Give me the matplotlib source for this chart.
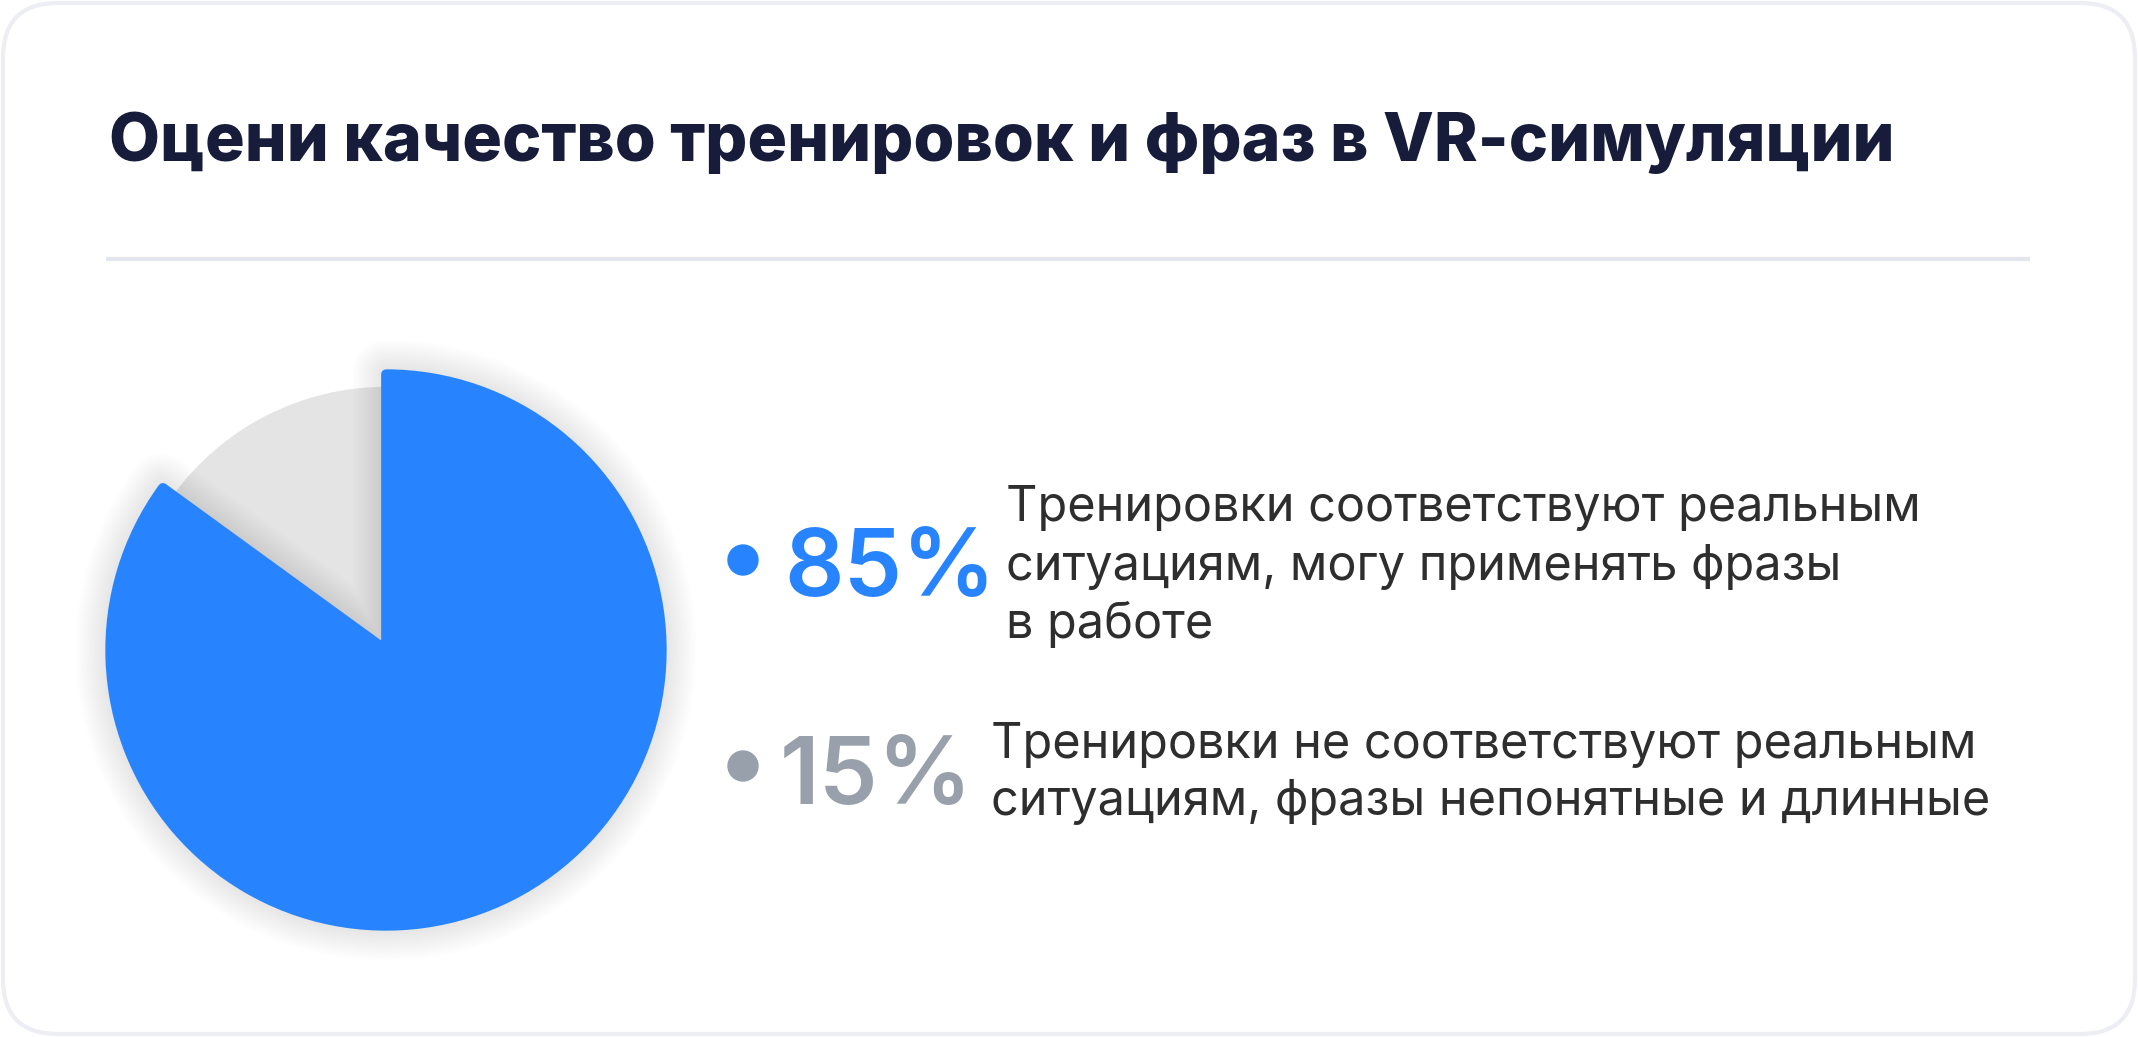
import matplotlib
matplotlib.use("Agg")
import matplotlib.pyplot as plt
from matplotlib.patches import FancyBboxPatch, Circle, Wedge
import numpy as np

# chart data
title = "Оцени качество тренировок и фраз в VR-симуляции"
values = [85, 15]
pct_labels = ["85%", "15%"]
descriptions = [
    ["Тренировки соответствуют реальным", "ситуациям, могу применять фразы", "в работе"],
    ["Тренировки не соответствуют реальным", "ситуациям, фразы непонятные и длинные"],
]
colors = ["#2784fe", "#e4e4e5"]
label_colors = ["#2784fe", "#98a0ab"]

W, H = 2138, 1037
fig = plt.figure(figsize=(W / 100, H / 100), dpi=100, facecolor="white")
plt.rcParams["font.family"] = ["Inter", "DejaVu Sans"]

# background axes in pixel coordinates
bg = fig.add_axes([0, 0, 1, 1])
bg.set_xlim(0, W)
bg.set_ylim(H, 0)
bg.axis("off")

card = FancyBboxPatch((3, 3), W - 6, H - 6, boxstyle="round,pad=0,rounding_size=55",
                      facecolor="white", edgecolor="#eceef3", linewidth=3)
bg.add_patch(card)

bg.text(109, 161, title, fontsize=47.6, fontweight="heavy", color="#161c3a", va="baseline")
bg.plot([106, 2030], [259, 259], color="#e3e5ef", linewidth=3, solid_capstyle="butt")

# legend rows
dot_y = [560, 766]
pct_x = [784, 780]
pct_base = [596, 804]
desc_x = [1006, 991]
desc_base = [[521, 580, 638], [758, 815]]
pct_size = [67, 67.5]
for i in range(2):
    bg.add_patch(Circle((743, dot_y[i]), 15, color=label_colors[i]))
    bg.text(pct_x[i], pct_base[i], pct_labels[i], fontsize=pct_size[i], fontweight="semibold",
            color=label_colors[i], va="baseline")
    for j, line in enumerate(descriptions[i]):
        bg.text(desc_x[i], desc_base[i][j], line, fontsize=35, color="#2e2e2e", va="baseline")

# pie
R = 280
cx, cy = 386, 650
span = 1.25
pax = fig.add_axes([(cx - span * R) / W, (H - cy - span * R) / H, 2 * span * R / W, 2 * span * R / H])
wedges, _ = pax.pie(values, colors=colors, startangle=90, counterclock=False, radius=1.0)
pax.set_xlim(-span, span)
pax.set_ylim(-span, span)
pax.set_aspect("equal")
pax.axis("off")

blue, grey = wedges
grey.set_radius(0.94)
grey.set_zorder(1)

# soft shadow around the big slice
t1, t2 = blue.theta1, blue.theta2
for k in range(14):
    sh = Wedge((0, 0), 0.99, t1, t2, facecolor="none", edgecolor="#5a6070",
               linewidth=2 + k * 3.5, alpha=0.011, joinstyle="round", zorder=2)
    pax.add_patch(sh)

blue.set_radius(0.985)
blue.set_edgecolor(colors[0])
blue.set_linewidth(7)
blue.set_joinstyle("round")
blue.set_zorder(3)

fig.savefig("out.png", dpi=100, facecolor="white")
